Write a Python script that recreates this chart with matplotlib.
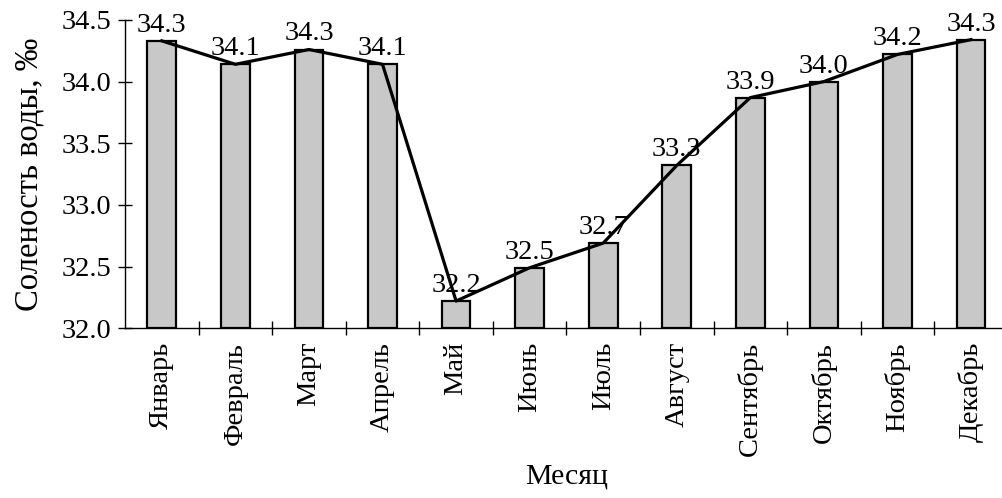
import matplotlib
matplotlib.use("Agg")
import matplotlib.pyplot as plt
import numpy as np

months = ["Январь", "Февраль", "Март", "Апрель", "Май", "Июнь",
          "Июль", "Август", "Сентябрь", "Октябрь", "Ноябрь", "Декабрь"]
salinity = [34.33, 34.14, 34.26, 34.14, 32.22, 32.49,
            32.69, 33.32, 33.87, 34.00, 34.22, 34.34]
y_ticks = [32.0, 32.5, 33.0, 33.5, 34.0, 34.5]

plt.rcParams["font.family"] = ["Liberation Serif", "DejaVu Serif"]

fig = plt.figure(figsize=(10.02, 4.98), dpi=100)
ax = fig.add_axes([0.1248, 0.341, 0.881, 0.619])

x = np.arange(len(months))
ax.bar(x, [v - 32.0 for v in salinity], bottom=32.0, width=0.39,
       color="#c8c8c8", edgecolor="black", linewidth=1.6, zorder=2)
ax.plot(x, salinity, color="black", linewidth=2.3, zorder=3)

for xi, v in zip(x, salinity):
    ax.annotate(f"{v:.1f}", (xi, v), xytext=(0, 6.5), textcoords="offset points",
                ha="center", va="baseline", fontsize=20.5, zorder=4)

ax.set_xlim(-0.5, len(months) - 0.5)
ax.set_ylim(32.0, 34.5)
ax.set_yticks(y_ticks)
ax.set_yticklabels([f"{t:.1f}" for t in y_ticks], fontsize=20.5)

ax.set_xticks(x)
ax.set_xticklabels(months, rotation=90, fontsize=20.5)
ax.set_xticks(np.arange(0.5, len(months) - 0.5, 1.0), minor=True)
ax.tick_params(axis="x", which="major", length=0, pad=10)
ax.tick_params(axis="x", which="minor", direction="inout", length=10, width=1)
ax.tick_params(axis="y", direction="inout", length=10, width=1, pad=5)

for side in ("top", "right"):
    ax.spines[side].set_visible(False)
for side in ("left", "bottom"):
    ax.spines[side].set_linewidth(1.0)

ax.set_ylabel("Соленость воды, ‰", fontsize=23.5, labelpad=12)
ax.set_xlabel("Месяц", fontsize=21.5, labelpad=5)

fig.savefig("out.png", dpi=100)
